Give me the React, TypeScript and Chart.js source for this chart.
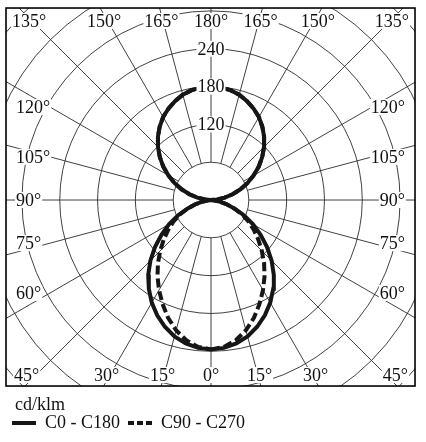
import React, { useEffect, useRef } from "react";
import { Chart, registerables } from "chart.js";

Chart.register(...registerables);

// Gamma angles (0° = straight down, 180° = straight up), in degrees
const GAMMA = [0, 5, 10, 15, 20, 25, 30, 35, 40, 45, 50, 55, 60, 65, 70, 75, 80, 85, 90,
  95, 100, 105, 110, 115, 120, 125, 130, 135, 140, 145, 150, 155, 160, 165, 170, 175, 180];

// Luminous intensity, cd/klm
const C0_C180 = [237, 235.5, 231, 224, 214, 202, 188, 172, 155, 136, 116, 96, 77, 58, 40, 25, 13, 4, 0,
  9.6, 22, 35.5, 49.7, 64, 78, 92.5, 106, 119, 131, 142, 152, 160, 167, 173, 177, 179, 180];
const C90_C270 = [237, 234, 226, 214, 199, 182, 165, 148, 131, 114, 98, 83, 69, 55, 39, 25, 13, 4, 0,
  9.6, 22, 35.5, 49.7, 64, 78, 92.5, 106, 119, 131, 142, 152, 160, 167, 173, 177, 179, 180];

const SERIES_LABELS = ["C0 - C180", "C90 - C270"];
const UNIT_LABEL = "cd/klm";

const RING_VALUES = [60, 120, 180, 240, 300, 360, 420, 480];
const RING_LABELS = [120, 180, 240];
const SPOKE_ANGLES = Array.from({ length: 24 }, (_, i) => i * 15);
const ANGLE_LABELS = [0, 15, 30, 45, 60, 75, 90, 105, 120, 135, 150, 165, 180];

// layout (pixels)
const CANVAS_W = 426;
const CANVAS_H = 442;
const CENTER_X = 212;
const CENTER_Y = 199;
const PX_PER_60 = 38;
const FRAME = { left: -205, top: -192, right: 204, bottom: 186 };
const UNIT_POS = { x: 15, y: 405 };
const FONT_FAMILY = "'Liberation Serif', 'Times New Roman', serif";
const FONT = `18px ${FONT_FAMILY}`;
const INK = "#111111";
const GRID = "#2b2b2b";
const CURVE = "#161616";
const CURVE_DASH = [9, 4];
const LEGEND_DASH = [6, 3];

const rad = (d: number) => (d * Math.PI) / 180;

function lobePoints(values: number[]) {
  const right = GAMMA.map((g, i) => ({ x: values[i] * Math.sin(rad(g)), y: -values[i] * Math.cos(rad(g)) }));
  const left = GAMMA.map((g, i) => ({ x: -values[i] * Math.sin(rad(g)), y: -values[i] * Math.cos(rad(g)) }))
    .reverse()
    .slice(1);
  return [...right, ...left];
}

function drawTextBox(ctx: CanvasRenderingContext2D, text: string, x: number, y: number, align: string) {
  ctx.font = FONT;
  const w = ctx.measureText(text).width;
  const left = align === "left" ? x : align === "right" ? x - w : x - w / 2;
  ctx.fillStyle = "#ffffff";
  ctx.fillRect(left - 1, y - 8, w + 2, 16);
  ctx.fillStyle = INK;
  ctx.textAlign = "left";
  ctx.textBaseline = "middle";
  ctx.fillText(text, left, y + 1);
}

const polarGridPlugin = {
  id: "polarGrid",
  beforeDatasetsDraw(chart: any) {
    const ctx: CanvasRenderingContext2D = chart.ctx;
    const xs = chart.scales.x;
    const ys = chart.scales.y;
    const cx = xs.getPixelForValue(0);
    const cy = ys.getPixelForValue(0);
    const k = (xs.getPixelForValue(60) - cx) / 60;
    ctx.save();
    ctx.beginPath();
    ctx.rect(cx + FRAME.left, cy + FRAME.top, FRAME.right - FRAME.left, FRAME.bottom - FRAME.top);
    ctx.clip();
    ctx.strokeStyle = GRID;
    ctx.lineWidth = 0.9;
    RING_VALUES.forEach((v) => {
      ctx.beginPath();
      ctx.arc(cx, cy, v * k, 0, Math.PI * 2);
      ctx.stroke();
    });
    const r0 = RING_VALUES[0] * k;
    const r1 = 800 * k;
    SPOKE_ANGLES.forEach((a) => {
      const dx = Math.sin(rad(a));
      const dy = Math.cos(rad(a));
      ctx.beginPath();
      ctx.moveTo(cx + dx * r0, cy + dy * r0);
      ctx.lineTo(cx + dx * r1, cy + dy * r1);
      ctx.stroke();
    });
    ctx.restore();
  },
  afterDatasetsDraw(chart: any) {
    const ctx: CanvasRenderingContext2D = chart.ctx;
    const xs = chart.scales.x;
    const ys = chart.scales.y;
    const cx = xs.getPixelForValue(0);
    const cy = ys.getPixelForValue(0);
    const fl = cx + FRAME.left;
    const fr = cx + FRAME.right;
    ctx.save();
    // radial value labels on the 180° spoke
    RING_LABELS.forEach((v) => {
      drawTextBox(ctx, String(v), cx, ys.getPixelForValue(v), "center");
    });
    // angle labels
    ANGLE_LABELS.forEach((g) => {
      const sides = g === 0 || g === 180 ? [1] : [-1, 1];
      sides.forEach((s) => {
        const text = `${g}°`;
        if (g <= 30) {
          drawTextBox(ctx, text, cx + s * 181 * Math.tan(rad(g)), cy + 175, "center");
        } else if (g === 45) {
          drawTextBox(ctx, text, s < 0 ? fl + 8 : fr - 7, cy + 175, s < 0 ? "left" : "right");
        } else if (g <= 120) {
          drawTextBox(ctx, text, s < 0 ? fl + 10 : fr - 10, cy + 161 / Math.tan(rad(g)), s < 0 ? "left" : "right");
        } else if (g === 135) {
          drawTextBox(ctx, text, s < 0 ? fl + 6 : fr - 6, cy - 179, s < 0 ? "left" : "right");
        } else {
          drawTextBox(ctx, text, cx + s * 185 * Math.tan(rad(180 - g)), cy - 179, "center");
        }
      });
    });
    // frame
    ctx.strokeStyle = "#000";
    ctx.lineWidth = 1.6;
    ctx.strokeRect(cx + FRAME.left, cy + FRAME.top, FRAME.right - FRAME.left, FRAME.bottom - FRAME.top);
    // unit label above the legend
    ctx.font = FONT;
    ctx.fillStyle = INK;
    ctx.textAlign = "left";
    ctx.textBaseline = "middle";
    ctx.fillText(UNIT_LABEL, UNIT_POS.x, UNIT_POS.y);
    ctx.restore();
  },
};

export default function App() {
  const ref = useRef<HTMLCanvasElement | null>(null);

  useEffect(() => {
    if (!ref.current) return;
    const chart = new Chart(ref.current, {
      type: "scatter",
      data: {
        datasets: [
          {
            label: SERIES_LABELS[0],
            data: lobePoints(C0_C180),
            showLine: true,
            borderColor: CURVE,
            backgroundColor: CURVE,
            borderWidth: 4,
            pointRadius: 0,
            tension: 0,
            fill: false,
          },
          {
            label: SERIES_LABELS[1],
            data: lobePoints(C90_C270),
            showLine: true,
            borderColor: CURVE,
            backgroundColor: CURVE,
            borderWidth: 4,
            borderDash: CURVE_DASH,
            pointRadius: 0,
            tension: 0,
            fill: false,
          },
        ],
      },
      options: {
        animation: false,
        responsive: false,
        maintainAspectRatio: false,
        layout: { padding: { left: 4, right: 0, top: 0, bottom: 0 } },
        scales: {
          x: { type: "linear", display: false, min: -330, max: 330 },
          y: { type: "linear", display: false, min: -330, max: 330 },
        },
        plugins: {
          tooltip: { enabled: false },
          legend: {
            display: true,
            position: "bottom",
            align: "start",
            labels: {
              usePointStyle: true,
              pointStyle: "line",
              pointStyleWidth: 24,
              boxHeight: 18,
              padding: 8,
              color: INK,
              font: { family: FONT_FAMILY, size: 18 },
              generateLabels: (c: any) => {
                const items = (Chart as any).defaults.plugins.legend.labels.generateLabels(c);
                items.forEach((it: any) => {
                  const ds = c.data.datasets[it.datasetIndex];
                  it.lineDash = ds.borderDash ? LEGEND_DASH : [];
                  it.lineWidth = ds.borderWidth;
                  it.strokeStyle = ds.borderColor;
                  it.fillStyle = ds.borderColor;
                  it.fontColor = INK;
                });
                return items;
              },
            },
          },
        },
      },
      plugins: [polarGridPlugin],
    } as any);
    const a = chart.chartArea;
    const k = PX_PER_60 / 60;
    const o: any = chart.options.scales;
    o.x.min = -(CENTER_X - a.left) / k;
    o.x.max = (a.right - CENTER_X) / k;
    o.y.max = (CENTER_Y - a.top) / k;
    o.y.min = -(a.bottom - CENTER_Y) / k;
    chart.update();
    return () => chart.destroy();
  }, []);

  return (
    <div style={{ position: "absolute", left: 0, top: 0, width: CANVAS_W, height: CANVAS_H }}>
      <canvas ref={ref} width={CANVAS_W} height={CANVAS_H} style={{ display: "block" }} />
    </div>
  );
}
